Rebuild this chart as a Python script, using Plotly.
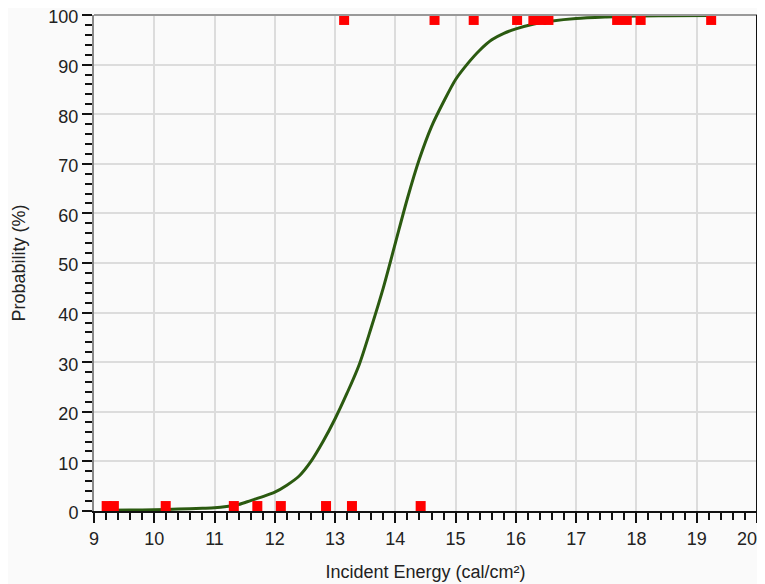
import plotly.graph_objects as go

# Observed outcomes (plotted at 1% = no ignition, 99% = ignition)
x_no = [9.21, 9.33, 10.19, 11.32, 11.71, 12.10, 12.85, 13.28, 14.42]
y_no = [1, 1, 1, 1, 1, 1, 1, 1, 1]
x_yes = [13.15, 14.65, 15.30, 16.02, 16.29, 16.42, 16.54, 17.68, 17.84, 18.07, 19.24]
y_yes = [99, 99, 99, 99, 99, 99, 99, 99, 99, 99, 99]

# Fitted probability curve
curve_x = [9.2, 9.6, 10.0, 10.4, 10.8, 11.0, 11.2, 11.4, 11.6, 11.8, 12.0, 12.2,
           12.4, 12.6, 12.8, 13.0, 13.2, 13.4, 13.6, 13.8, 14.0, 14.2, 14.4,
           14.6, 14.8, 15.0, 15.2, 15.4, 15.6, 15.8, 16.0, 16.3, 16.6, 17.0,
           17.5, 18.0, 18.5, 19.24]
curve_y = [0.15, 0.2, 0.25, 0.4, 0.55, 0.65, 0.9, 1.3, 2.1, 2.9, 3.8, 5.2,
           7.0, 10.0, 14.0, 18.6, 23.8, 29.5, 37.0, 45.0, 54.0, 63.0, 71.0,
           77.5, 82.5, 87.0, 90.2, 92.9, 95.0, 96.3, 97.2, 98.2, 98.8, 99.3,
           99.6, 99.8, 99.85, 99.9]

x_ticks = list(range(9, 21))
x_labels = [str(v) for v in x_ticks]
x_labels[-1] = x_labels[-1] + "\u00a0" * 4   # keep the last label inside the page
y_ticks = list(range(0, 101, 10))

fig = go.Figure()
fig.add_trace(go.Scatter(x=curve_x, y=curve_y, mode="lines",
                         line=dict(color="#2b5a10", width=3, shape="spline", smoothing=0.8),
                         hoverinfo="skip", showlegend=False))
fig.add_trace(go.Scatter(x=x_no + x_yes, y=y_no + y_yes, mode="markers",
                         marker=dict(symbol="square", size=10, color="#ff0000",
                                     line=dict(width=0)),
                         showlegend=False, cliponaxis=False))

font = dict(family="Liberation Sans, Arial, sans-serif", size=18, color="#222222")

# The page body adds an 8px offset, so the figure is sized/margined to compensate
fig.update_layout(
    width=757, height=576,
    margin=dict(l=86, r=8, t=7, b=73),
    paper_bgcolor="#fafafa", plot_bgcolor="#fafafa",
    font=font,
    xaxis=dict(range=[9, 20.0005], tickvals=x_ticks, ticktext=x_labels,
               automargin=False, ticklabeloverflow="allow",
               showgrid=True, gridcolor="#dcdcdc", gridwidth=2,
               showline=True, linecolor="#111111", linewidth=2,
               ticks="outside", ticklen=10, tickwidth=2, tickcolor="#111111",
               minor=dict(dtick=0.2, ticks="outside", ticklen=7, tickwidth=2,
                          tickcolor="#111111", showgrid=False),
               zeroline=False, title=dict(text="Incident Energy (cal/cm²)",
                                          font=dict(size=18), standoff=18)),
    yaxis=dict(range=[0, 100], tickvals=y_ticks, ticktext=[str(v) for v in y_ticks],
               automargin=False, ticklabeloverflow="allow", ticklabelshift=2,
               showgrid=True, gridcolor="#dcdcdc", gridwidth=2,
               showline=True, linecolor="#888888", linewidth=2,
               ticks="outside", ticklen=10, tickwidth=2, tickcolor="#111111",
               minor=dict(dtick=2, ticks="outside", ticklen=7, tickwidth=2,
                          tickcolor="#111111", showgrid=False),
               zeroline=False, title=dict(text="Probability (%)",
                                          font=dict(size=18), standoff=18)),
    shapes=[
        dict(type="line", xref="paper", yref="paper", x0=0, x1=1, y0=1, y1=1,
             line=dict(color="#999999", width=2)),
        dict(type="line", xref="paper", yref="paper", x0=1, x1=1, y0=0, y1=1,
             line=dict(color="#111111", width=2)),
    ],
)

fig.write_html("out.html")
